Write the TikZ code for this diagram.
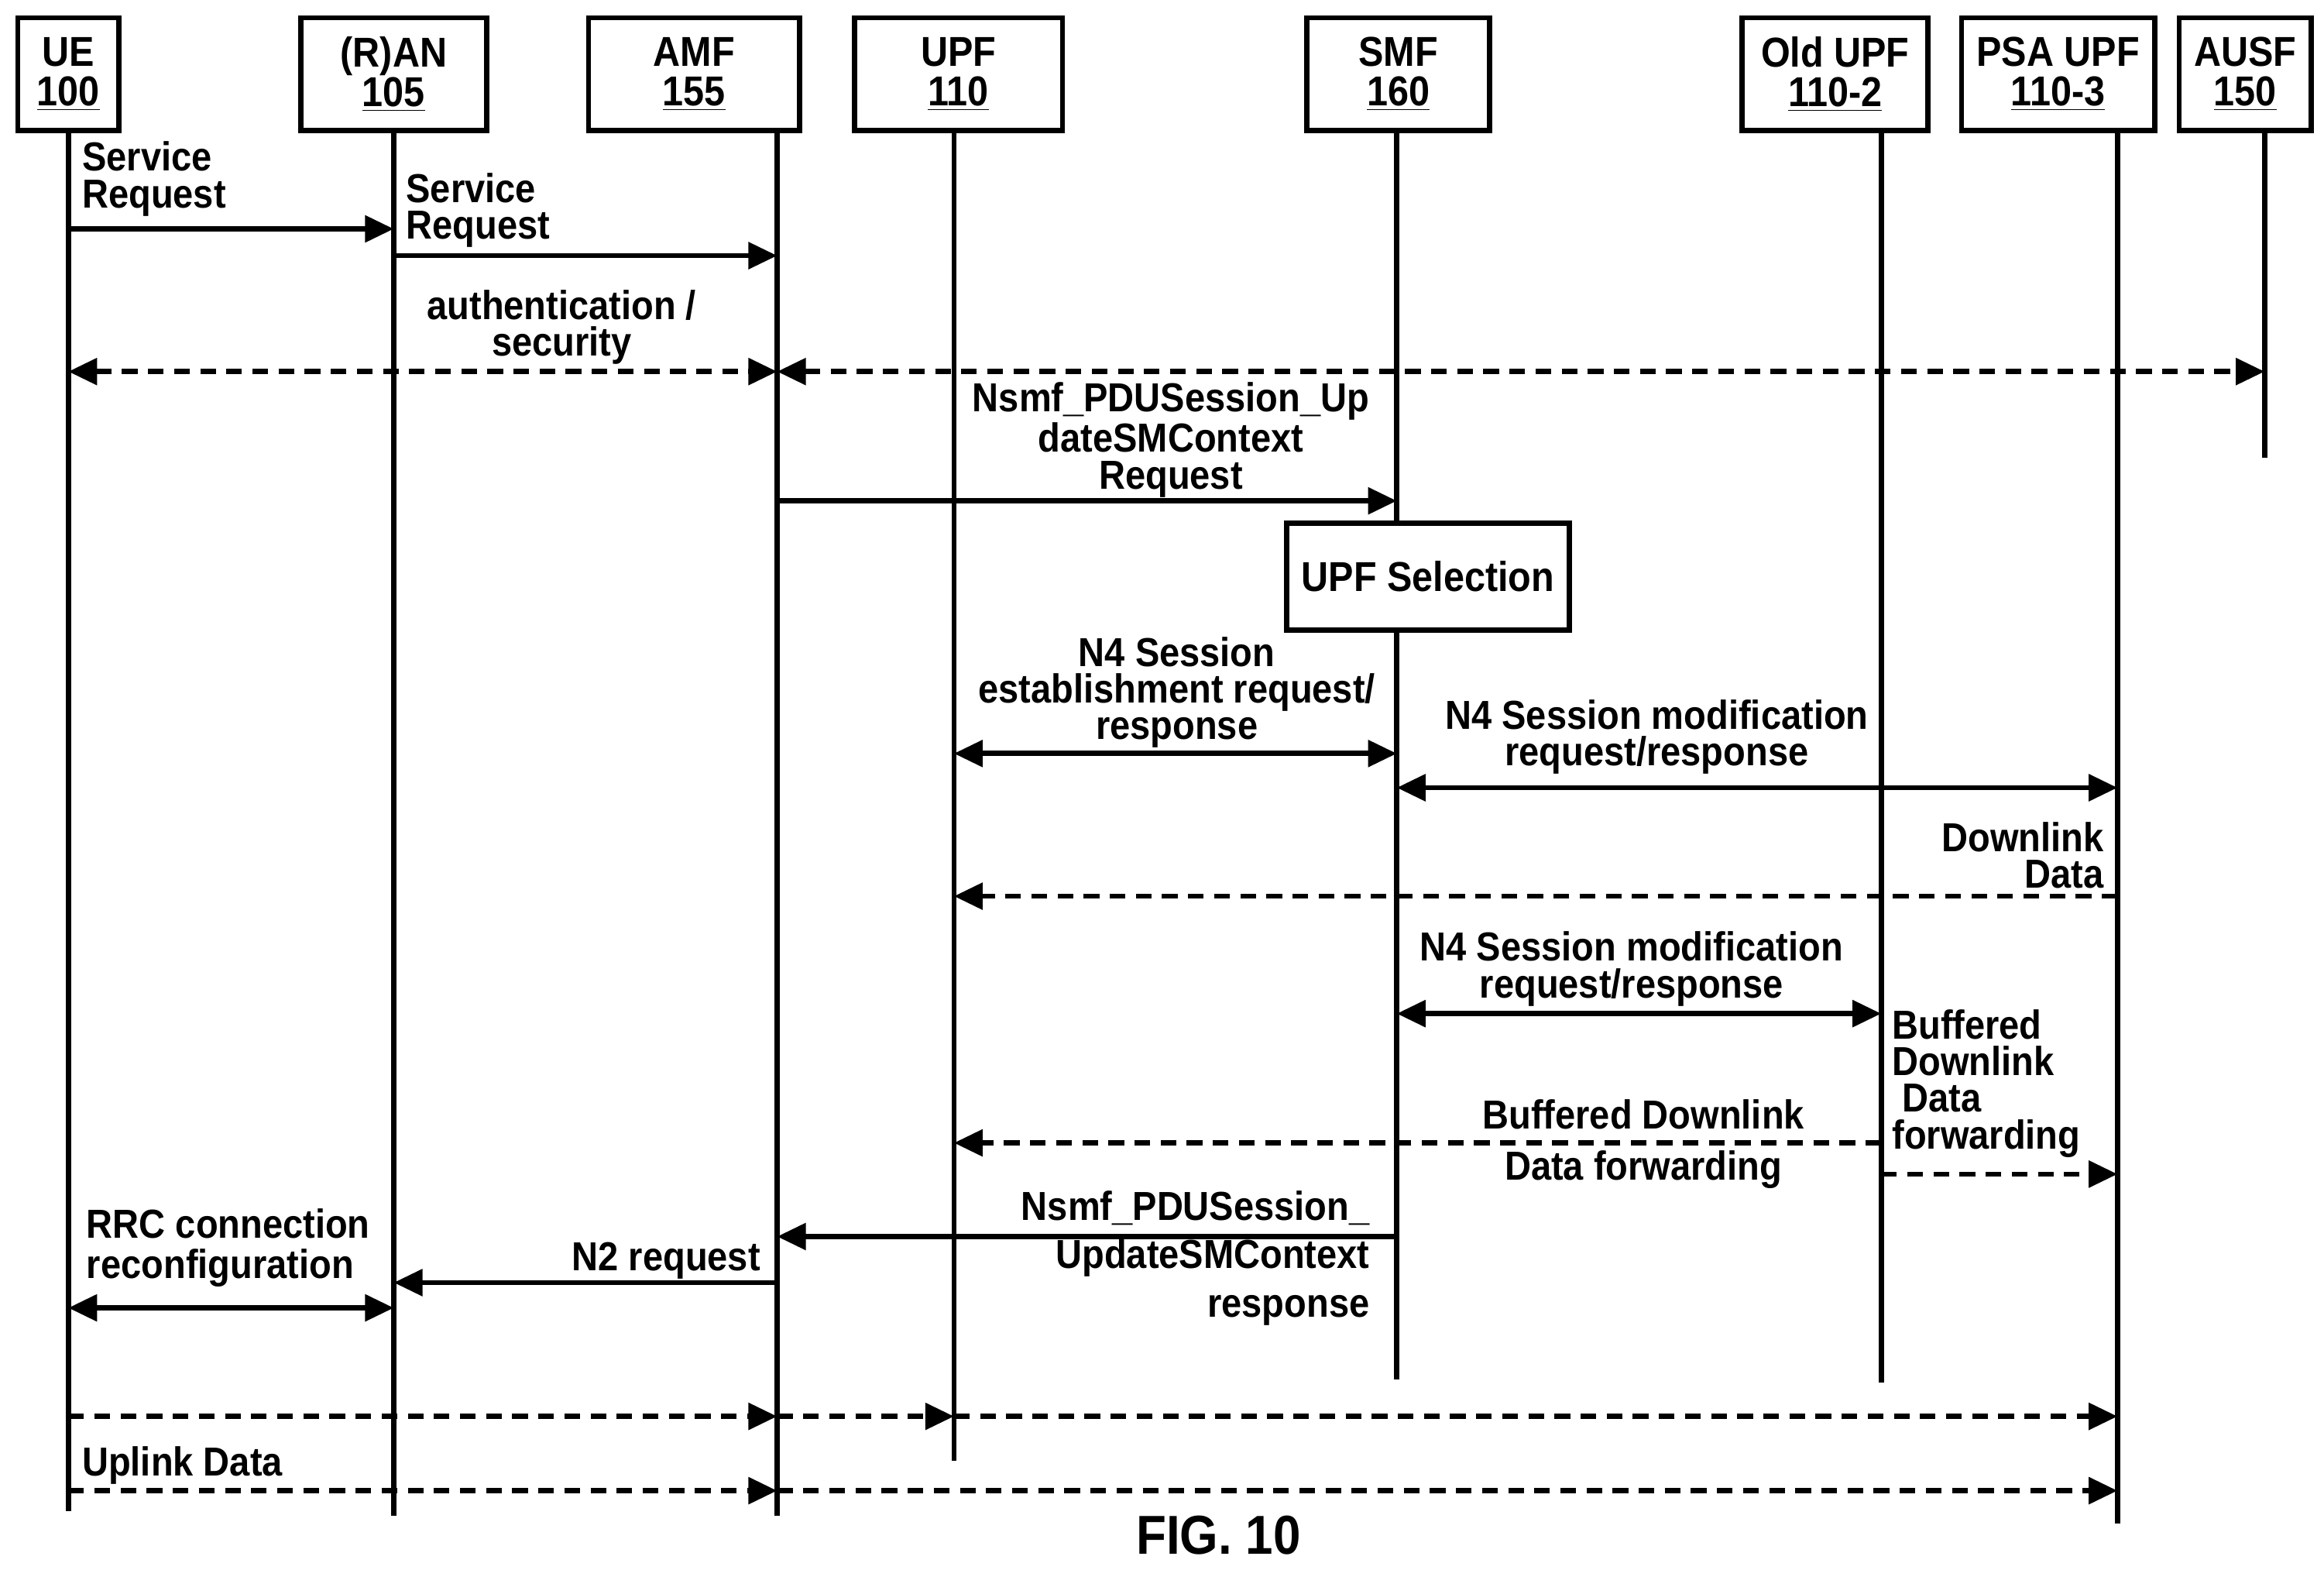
\documentclass[tikz,border=0pt]{standalone}
\usepackage{fontspec}
\setmainfont{Liberation Sans}[FakeStretch=0.9]
\usetikzlibrary{arrows.meta}
\begin{document}
\begin{tikzpicture}[x=0.02cm,y=-0.02cm,
 font=\bfseries\fontsize{15.5}{14}\selectfont,
 box/.style={draw,line width=2pt,minimum height=1.52cm,align=center,inner sep=2pt,font=\bfseries\fontsize{16}{15}\selectfont},
 life/.style={line width=2pt},
 msg/.style={line width=2pt,-{Triangle[length=11pt,width=10pt]}},
 dmsg/.style={msg,dash pattern=on 6pt off 4pt},
 bi/.style={line width=2pt,{Triangle[length=11pt,width=10pt]}-{Triangle[length=11pt,width=10pt]}},
 dbi/.style={bi,dash pattern=on 6pt off 4pt},
 lbl/.style={align=center,inner sep=0pt}]
\useasboundingbox (0,0) rectangle (1564,1056);
\node[box,minimum width=1.36cm] (ue) at (46,50) {UE\\\underline{100}};
\node[box,minimum width=2.5cm] (ran) at (265,50) {(R)AN\\\underline{105}};
\node[box,minimum width=2.84cm] (amf) at (467,50) {AMF\\\underline{155}};
\node[box,minimum width=2.8cm] (upf) at (645,50) {UPF\\\underline{110}};
\node[box,minimum width=2.46cm] (smf) at (941,50) {SMF\\\underline{160}};
\node[box,minimum width=2.5cm] (old) at (1235,50) {Old UPF\\\underline{110-2}};
\node[box,minimum width=2.6cm] (psa) at (1385,50) {PSA UPF\\\underline{110-3}};
\node[box,minimum width=1.78cm] (ausf) at (1511,50) {AUSF\\\underline{150}};
\coordinate (ueT) at (46,88); \coordinate (ueB) at (46,1017);
\coordinate (ranT) at (265,88); \coordinate (ranB) at (265,1020);
\coordinate (amfT) at (523,88); \coordinate (amfB) at (523,1020);
\coordinate (upfT) at (642,88); \coordinate (upfB) at (642,983);
\coordinate (smfT) at (940,88); \coordinate (smfB) at (940,928);
\coordinate (oldT) at (1266,88); \coordinate (oldB) at (1266,930);
\coordinate (psaT) at (1425,88); \coordinate (psaB) at (1425,1025);
\coordinate (ausfT) at (1524,88); \coordinate (ausfB) at (1524,308);
\node[draw,line width=2pt,minimum width=3.8cm,minimum height=1.44cm,fill=white,font=\bfseries\fontsize{16}{15}\selectfont] (sel) at (961,388) {UPF Selection};
\foreach \n in {ue,ran,amf,upf,old,psa,ausf}{\draw[life] (\n T) -- (\n B);}
\draw[life] (smfT) -- (sel.north -| smfT);
\draw[life] (sel.south -| smfT) -- (smfB);
\draw[msg] (46,154) -- (265,154);
\node[lbl,align=left,anchor=north west] (l1) at (55,95) {Service\\Request};
\draw[msg] (265,172) -- (523,172);
\node[lbl,align=left,anchor=north west] (l2) at (273,116) {Service\\Request};
\draw[dbi] (46,250) -- (523,250);
\draw[dbi] (523,250) -- (1524,250);
\node[lbl] (l3) at (378,220) {authentication /\\security};
\draw[msg] (523,337) -- (940,337);
\node[lbl] (l4) at (788,296) {Nsmf\_PDUSession\_Up\\dateSMContext\\Request};
\draw[bi] (642,507) -- (940,507);
\node[lbl] (l5) at (792,466) {N4 Session\\establishment request/\\response};
\draw[bi] (940,530) -- (1425,530);
\node[lbl] (l6) at (1115,496) {N4 Session modification\\request/response};
\draw[dmsg] (1425,603) -- (642,603);
\node[lbl,align=right,anchor=north east] (l7) at (1416,553) {Downlink\\Data};
\draw[bi] (940,682) -- (1266,682);
\node[lbl] (l8) at (1098,652) {N4 Session modification\\request/response};
\draw[dmsg] (1266,769) -- (642,769);
\node[lbl] (l9a) at (1106,750) {Buffered Downlink};
\node[lbl] (l9b) at (1106,787) {Data forwarding};
\draw[dmsg] (1266,790) -- (1425,790);
\node[lbl,align=left,anchor=north west] (l10) at (1273,679) {Buffered\\Downlink\\\ Data\\forwarding};
\draw[msg] (940,832) -- (523,832);
\node[lbl,align=right,anchor=north east,font=\bfseries\fontsize{15.5}{18.5}\selectfont] (l11) at (922,801) {Nsmf\_PDUSession\_\\UpdateSMContext\\response};
\draw[msg] (523,863) -- (265,863);
\node[lbl,anchor=east] (l12) at (512,848) {N2 request};
\draw[bi] (46,880) -- (265,880);
\node[lbl,align=left,anchor=north west,font=\bfseries\fontsize{15.5}{15.5}\selectfont] (l13) at (58,813) {RRC connection\\reconfiguration};
\draw[dmsg] (46,953) -- (523,953);
\draw[dmsg] (523,953) -- (642,953);
\draw[dmsg] (642,953) -- (1425,953);
\draw[dmsg] (46,1003) -- (523,1003);
\draw[dmsg] (523,1003) -- (1425,1003);
\node[lbl,anchor=west] (l14) at (55,986) {Uplink Data};
\node[lbl,font=\bfseries\fontsize{21}{20}\selectfont] (fig) at (820,1033) {FIG. 10};
\end{tikzpicture}
\end{document}
